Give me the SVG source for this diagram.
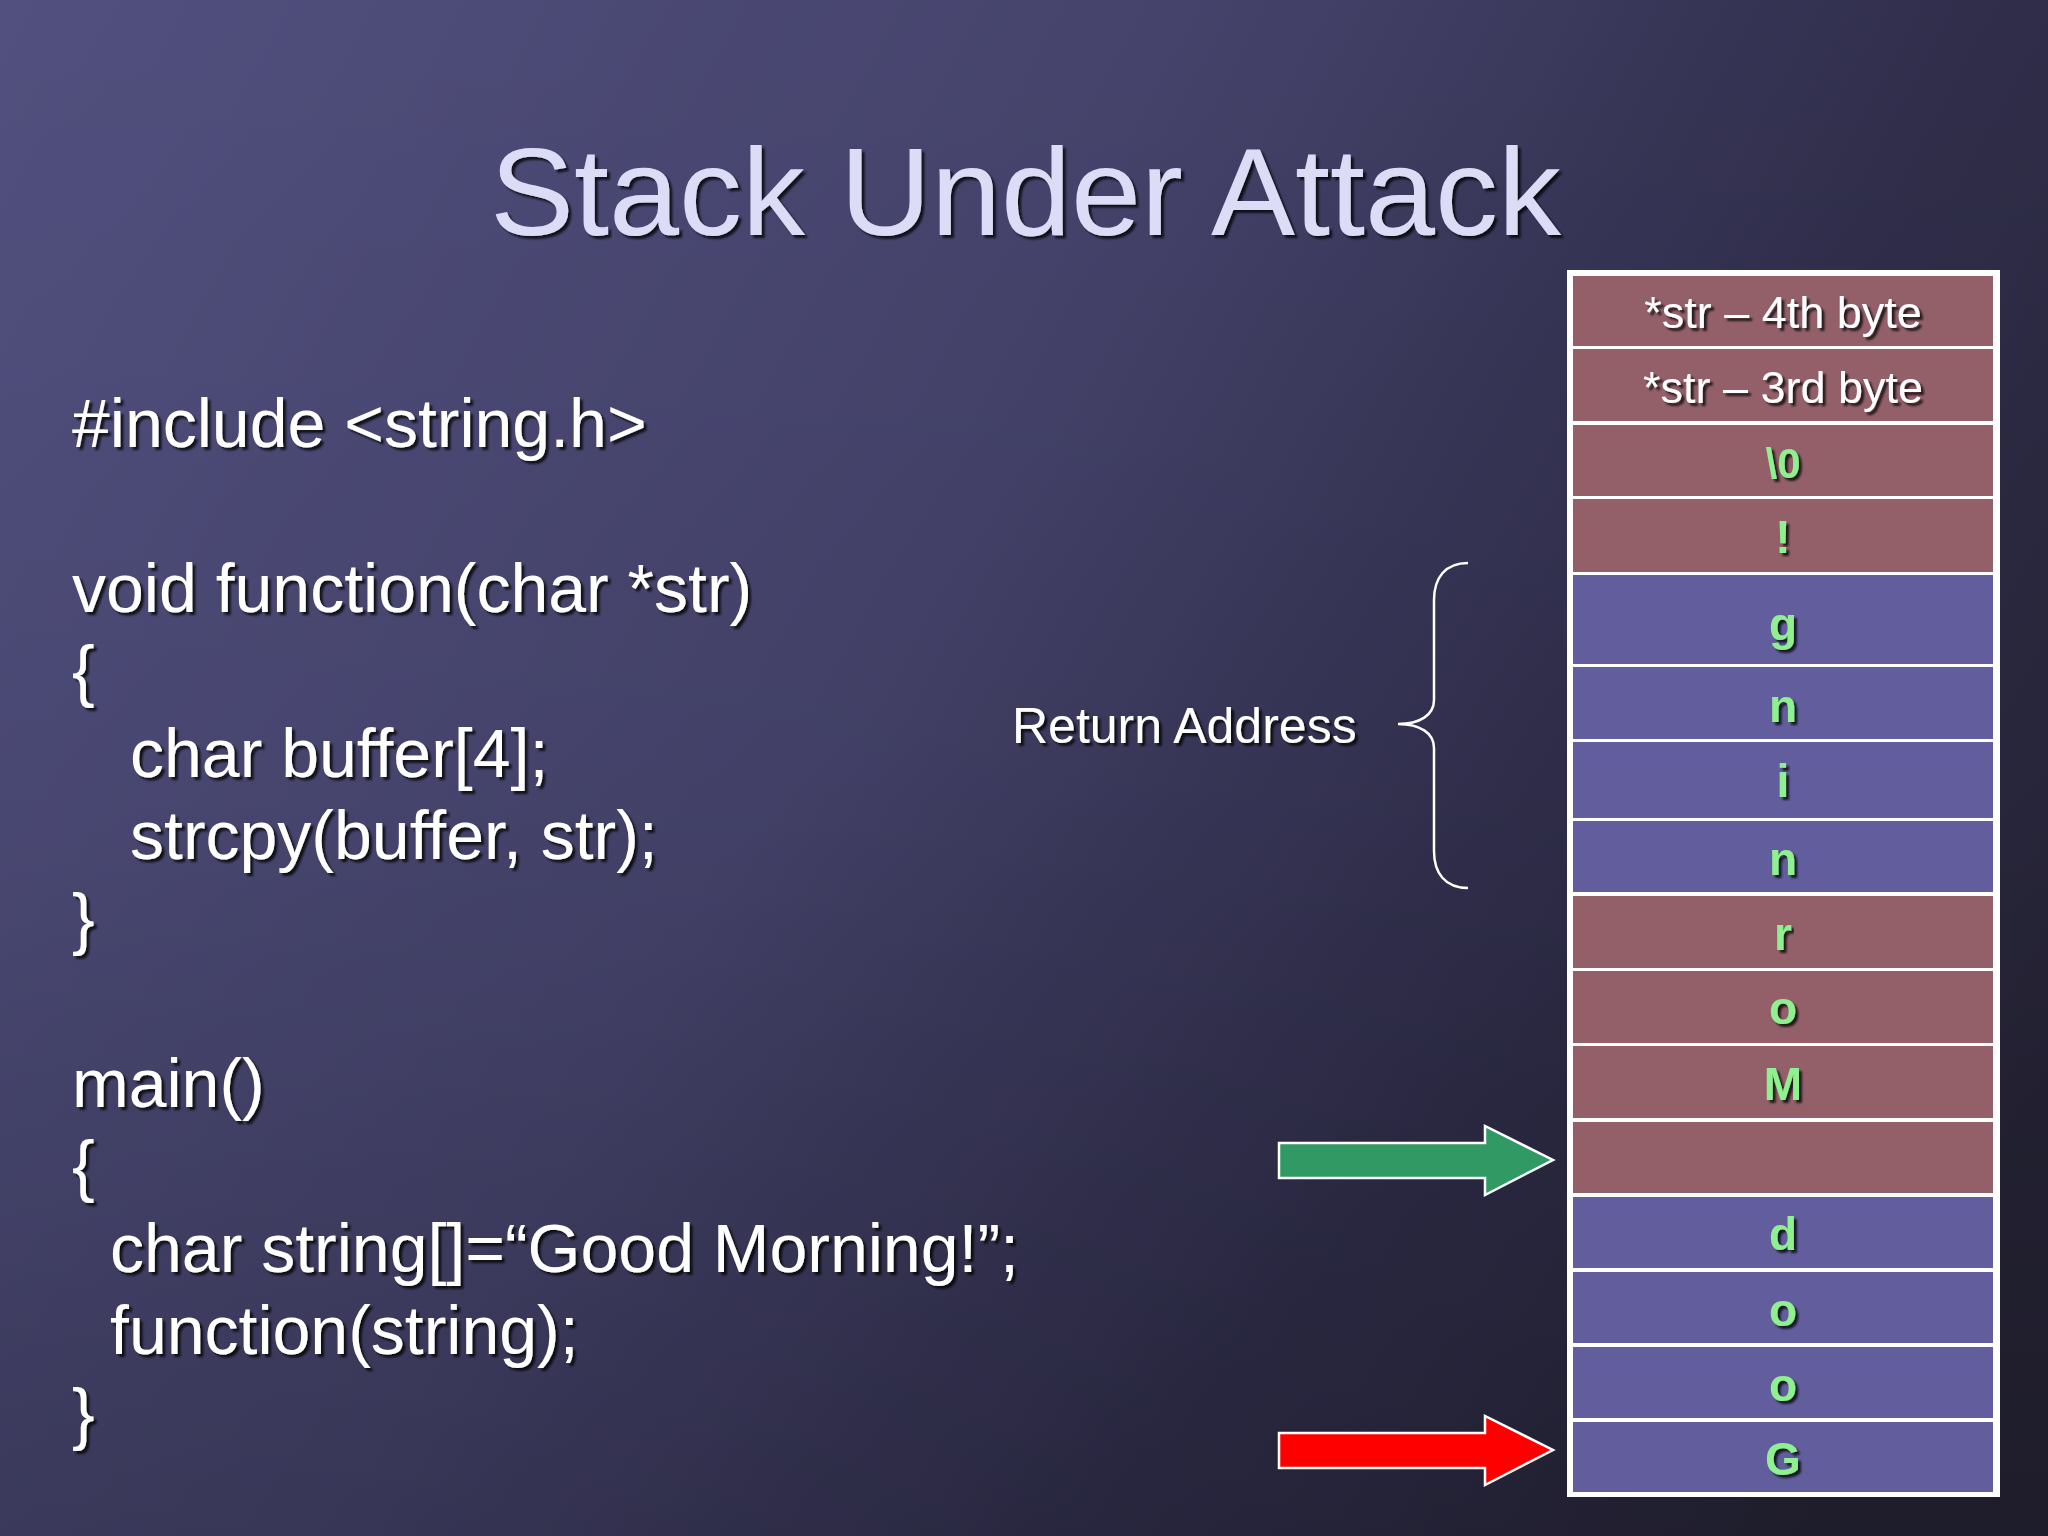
<svg xmlns="http://www.w3.org/2000/svg" width="2048" height="1536" viewBox="0 0 2048 1536">
<defs>
<linearGradient id="bg" x1="0" y1="0" x2="2048" y2="1100" gradientUnits="userSpaceOnUse">
<stop offset="0" stop-color="#51507f"/>
<stop offset="0.45" stop-color="#45436b"/>
<stop offset="0.75" stop-color="#302e4b"/>
<stop offset="1" stop-color="#262436"/>
</linearGradient>
<linearGradient id="vshade" x1="0" y1="0" x2="0" y2="1" >
<stop offset="0" stop-color="#000" stop-opacity="0"/>
<stop offset="0.5" stop-color="#000" stop-opacity="0.04"/>
<stop offset="1" stop-color="#000" stop-opacity="0.2"/>
</linearGradient>
<filter id="sh" x="-5%" y="-20%" width="115%" height="150%">
<feDropShadow dx="3" dy="3" stdDeviation="1.2" flood-color="#000" flood-opacity="0.75"/>
</filter>
</defs>
<style>
text{font-family:"Liberation Sans",Arial,sans-serif;}
.title{font-size:125px;fill:#dcdcf7;}
.code{font-size:68px;fill:#ffffff;}
.lbl{font-size:50px;fill:#ffffff;}
.red{fill:#93606a;}
.blue{fill:#625e9d;}
.ch{font-size:46px;font-weight:bold;fill:#8ef08e;text-anchor:middle;}
.ws{font-size:45px;fill:#ffffff;text-anchor:middle;}
</style>
<rect x="0" y="0" width="2048" height="1536" fill="url(#bg)"/>
<rect x="0" y="0" width="2048" height="1536" fill="url(#vshade)"/>

<g id="title" filter="url(#sh)">
<text class="title" x="490" y="235" textLength="1071" lengthAdjust="spacingAndGlyphs">Stack Under Attack</text>
</g>

<g id="code" filter="url(#sh)">
<text class="code" x="72" y="447">#include &lt;string.h&gt;</text>
<text class="code" x="72" y="612">void function(char *str)</text>
<text class="code" x="72" y="694">{</text>
<text class="code" x="130" y="777">char buffer[4];</text>
<text class="code" x="130" y="859">strcpy(buffer, str);</text>
<text class="code" x="72" y="942">}</text>
<text class="code" x="72" y="1107">main()</text>
<text class="code" x="72" y="1189">{</text>
<text class="code" x="110" y="1272">char string[]=“Good Morning!”;</text>
<text class="code" x="110" y="1354">function(string);</text>
<text class="code" x="72" y="1437">}</text>
</g>

<g id="return-address-label" filter="url(#sh)">
<text class="lbl" x="1012" y="743">Return Address</text>
</g>

<g id="stack">
<rect x="1567" y="270" width="433" height="1227" fill="#ffffff"/>
<g id="cell-1"><rect class="red" x="1573" y="276" width="420" height="70"/><text class="ws" x="1783" y="328" filter="url(#sh)">*str – 4th byte</text></g>
<g id="cell-2"><rect class="red" x="1573" y="349" width="420" height="72"/><text class="ws" x="1783" y="403" filter="url(#sh)">*str – 3rd byte</text></g>
<g id="cell-3"><rect class="red" x="1573" y="425" width="420" height="71"/><text class="ch" x="1783" y="478" style="font-size:42px" filter="url(#sh)">\0</text></g>
<g id="cell-4"><rect class="red" x="1573" y="499" width="420" height="73"/><text class="ch" x="1783" y="553" filter="url(#sh)">!</text></g>
<g id="cell-5"><rect class="blue" x="1573" y="575" width="420" height="89"/><text class="ch" x="1783" y="640" filter="url(#sh)">g</text></g>
<g id="cell-6"><rect class="blue" x="1573" y="667" width="420" height="72"/><text class="ch" x="1783" y="722" filter="url(#sh)">n</text></g>
<g id="cell-7"><rect class="blue" x="1573" y="742" width="420" height="76"/><text class="ch" x="1783" y="797" filter="url(#sh)">i</text></g>
<g id="cell-8"><rect class="blue" x="1573" y="821" width="420" height="71"/><text class="ch" x="1783" y="875" filter="url(#sh)">n</text></g>
<g id="cell-9"><rect class="red" x="1573" y="896" width="420" height="72"/><text class="ch" x="1783" y="950" filter="url(#sh)">r</text></g>
<g id="cell-10"><rect class="red" x="1573" y="971" width="420" height="72"/><text class="ch" x="1783" y="1024" filter="url(#sh)">o</text></g>
<g id="cell-11"><rect class="red" x="1573" y="1046" width="420" height="72"/><text class="ch" x="1783" y="1100" filter="url(#sh)">M</text></g>
<g id="cell-12"><rect class="red" x="1573" y="1122" width="420" height="71"/></g>
<g id="cell-13"><rect class="blue" x="1573" y="1197" width="420" height="71"/><text class="ch" x="1783" y="1250" filter="url(#sh)">d</text></g>
<g id="cell-14"><rect class="blue" x="1573" y="1272" width="420" height="71"/><text class="ch" x="1783" y="1326" filter="url(#sh)">o</text></g>
<g id="cell-15"><rect class="blue" x="1573" y="1347" width="420" height="71"/><text class="ch" x="1783" y="1401" filter="url(#sh)">o</text></g>
<g id="cell-16"><rect class="blue" x="1573" y="1422" width="420" height="70"/><text class="ch" x="1783" y="1475" filter="url(#sh)">G</text></g>
</g>

<g id="connectors">
<path d="M1468,563 C1445,563 1434,578 1434,600 L1434,700 C1434,715 1420,724 1398,724 C1420,724 1434,733 1434,748 L1434,851 C1434,873 1445,888 1468,888" fill="none" stroke="#ffffff" stroke-width="2.5"/>
<path d="M1279,1143 L1485,1143 L1485,1126 L1553,1160 L1485,1195 L1485,1178 L1279,1178 Z" fill="#319963" stroke="#ffffff" stroke-width="2.5"/>
<path d="M1279,1433 L1485,1433 L1485,1416 L1553,1450 L1485,1485 L1485,1468 L1279,1468 Z" fill="#ff0000" stroke="#ffffff" stroke-width="2.5"/>
</g>
</svg>
